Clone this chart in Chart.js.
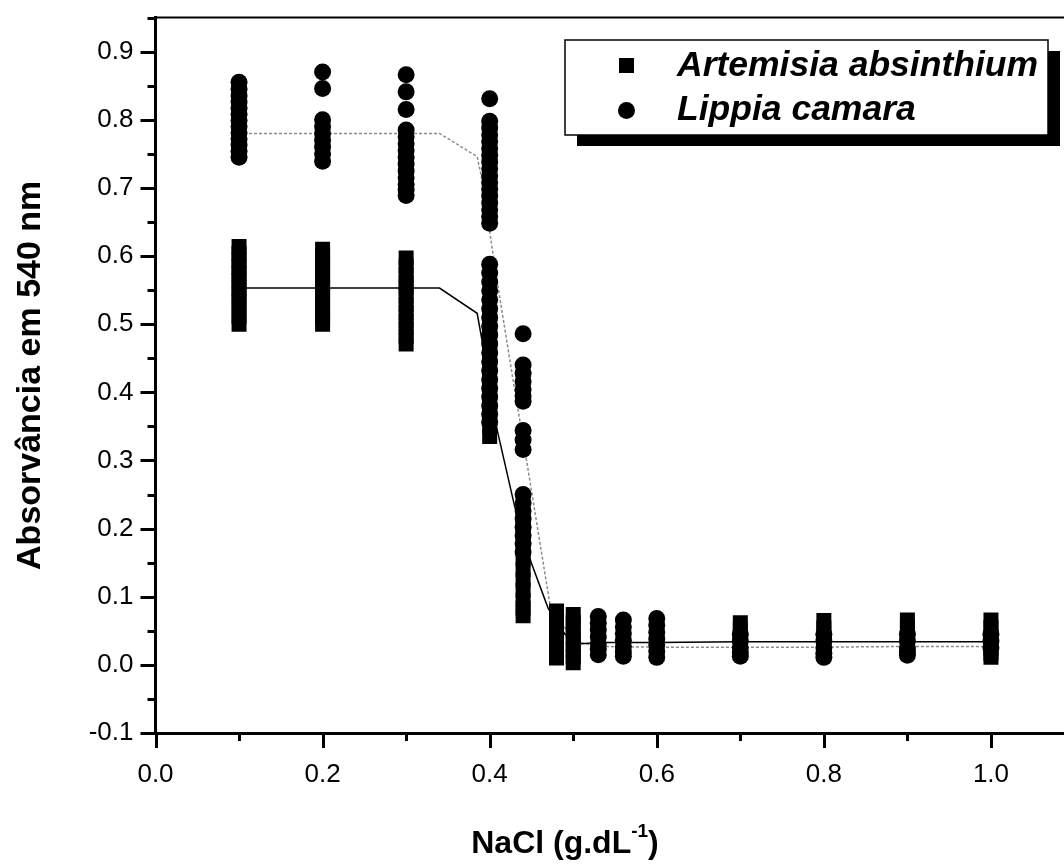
<!DOCTYPE html>
<html>
<head>
<meta charset="utf-8">
<script src="https://cdn.jsdelivr.net/npm/chart.js@4.4.1/dist/chart.umd.min.js"></script>
<style>
  html, body { margin: 0; padding: 0; background: #fff; overflow: hidden; }
  #wrap { width: 1076px; height: 865px; }
</style>
</head>
<body>
<div id="wrap"><canvas id="myChart" width="1076" height="865"></canvas></div>
<script>
// NaCl concentrations (g/dL) where replicates were read
const concentrations = [0.1, 0.2, 0.3, 0.4, 0.44, 0.48, 0.5, 0.53, 0.56, 0.6, 0.7, 0.8, 0.9, 1.0];

// Artemisia absinthium replicate absorbances, one list per concentration
const artemisiaAbs = [
    [0.614, 0.604, 0.594, 0.584, 0.574, 0.564, 0.553, 0.543, 0.533, 0.522, 0.511, 0.500],
    [0.610, 0.600, 0.590, 0.580, 0.570, 0.560, 0.553, 0.543, 0.532, 0.521, 0.510, 0.500],
    [0.597, 0.585, 0.573, 0.561, 0.553, 0.541, 0.529, 0.517, 0.505, 0.494, 0.482, 0.471],
    [0.515, 0.500, 0.485, 0.470, 0.455, 0.440, 0.425, 0.410, 0.395, 0.380, 0.365, 0.350, 0.335],
    [0.215, 0.200, 0.185, 0.170, 0.155, 0.140, 0.125, 0.110, 0.095, 0.083, 0.072],
    [0.079, 0.068, 0.057, 0.046, 0.035, 0.026, 0.018, 0.010],
    [0.074, 0.063, 0.052, 0.041, 0.031, 0.022, 0.012, 0.003],
    [],
    [],
    [],
    [0.062, 0.052, 0.042, 0.033],
    [0.065, 0.054, 0.044, 0.034],
    [0.066, 0.055, 0.045, 0.034],
    [0.066, 0.055, 0.044, 0.034, 0.024, 0.017, 0.011]
];

// Lippia camara replicate absorbances
const lippiaAbs = [
    [0.855, 0.845, 0.835, 0.826, 0.817, 0.808, 0.799, 0.790, 0.781, 0.772, 0.763, 0.754, 0.745],
    [0.870, 0.846, 0.800, 0.790, 0.780, 0.770, 0.760, 0.750, 0.739],
    [0.866, 0.841, 0.815, 0.785, 0.775, 0.765, 0.755, 0.745, 0.735, 0.725, 0.715, 0.705, 0.697, 0.689],
    [0.831, 0.798, 0.788, 0.778, 0.768, 0.758, 0.748, 0.738, 0.728, 0.718, 0.708, 0.698, 0.688, 0.678,
     0.668, 0.658, 0.648, 0.588, 0.575, 0.562, 0.549, 0.536, 0.523, 0.510, 0.497, 0.484, 0.471, 0.458,
     0.445, 0.432, 0.419, 0.406, 0.393, 0.380, 0.368, 0.356],
    [0.486, 0.440, 0.428, 0.416, 0.404, 0.395, 0.387, 0.344, 0.330, 0.316, 0.250, 0.238, 0.226, 0.214,
     0.202, 0.190, 0.178, 0.166],
    [],
    [],
    [0.071, 0.061, 0.051, 0.041, 0.031, 0.023, 0.015],
    [0.066, 0.056, 0.046, 0.036, 0.027, 0.019, 0.0125],
    [0.068, 0.058, 0.048, 0.038, 0.029, 0.020, 0.011],
    [0.045, 0.035, 0.025, 0.018, 0.0125],
    [0.045, 0.035, 0.025, 0.017, 0.011],
    [0.045, 0.035, 0.025, 0.019, 0.014],
    [0.045, 0.035, 0.025]
];

// mean curves
const artemisiaCurveX = [0.1, 0.2, 0.3, 0.34, 0.385, 0.39, 0.408, 0.43, 0.45, 0.47, 0.49, 0.51, 0.53, 0.6, 0.7, 0.8, 0.9, 1.0];
const artemisiaCurveY = [0.553, 0.553, 0.553, 0.553, 0.516, 0.482, 0.350, 0.232, 0.149, 0.083, 0.045, 0.031, 0.033, 0.033, 0.034, 0.034, 0.034, 0.034];
const lippiaCurveX = [0.1, 0.2, 0.3, 0.34, 0.385, 0.39, 0.41, 0.428, 0.444, 0.472, 0.5, 0.53, 0.6, 0.7, 0.8, 0.9, 1.0];
const lippiaCurveY = [0.780, 0.780, 0.780, 0.780, 0.746, 0.717, 0.555, 0.418, 0.301, 0.090, 0.035, 0.027, 0.026, 0.026, 0.026, 0.027, 0.027];

const seriesNames = ['Artemisia absinthium', 'Lippia camara'];

const toPoints = (lists) => concentrations.flatMap((c, i) => lists[i].map(v => ({ x: c, y: v })));
const toCurve = (xs, ys) => xs.map((x, i) => ({ x, y: ys[i] }));

const FONT = "'Liberation Sans', Arial, Helvetica, sans-serif";

// drop the label overhang padding chart.js adds around each axis
const noOverhang = (scale) => {
    scale.paddingLeft = 0;
    scale.paddingRight = 0;
    scale.paddingTop = 0;
    scale.paddingBottom = 0;
};

// draws ticks (major/minor), top frame line, x title and the shadowed legend box
const decorPlugin = {
    id: 'decor',
    afterDraw(chart) {
        const ctx = chart.ctx;
        const area = chart.chartArea;
        const xs = chart.scales.x;
        const ys = chart.scales.y;
        ctx.save();
        ctx.strokeStyle = '#000';

        // thin top frame line
        ctx.lineWidth = 2;
        ctx.beginPath();
        ctx.moveTo(area.left, area.top);
        ctx.lineTo(area.right, area.top);
        ctx.stroke();

        // y ticks
        ctx.lineWidth = 3;
        ys.ticks.forEach(t => {
            const py = Math.round(ys.getPixelForValue(t.value)) + 0.5;
            const len = t.label ? 15 : 8;
            ctx.beginPath();
            ctx.moveTo(area.left, py);
            ctx.lineTo(area.left - len, py);
            ctx.stroke();
        });
        // x ticks
        xs.ticks.forEach(t => {
            const px = Math.round(xs.getPixelForValue(t.value)) + 0.5;
            const len = t.label ? 15 : 8;
            ctx.beginPath();
            ctx.moveTo(px, area.bottom);
            ctx.lineTo(px, area.bottom + len);
            ctx.stroke();
        });

        // x axis title with superscript
        ctx.fillStyle = '#000';
        ctx.textBaseline = 'alphabetic';
        const mainFont = 'bold 32px ' + FONT;
        const supFont = 'bold 19px ' + FONT;
        ctx.font = mainFont;
        const w1 = ctx.measureText('NaCl (g.dL').width;
        const w3 = ctx.measureText(')').width;
        ctx.font = supFont;
        const w2 = ctx.measureText('-1').width;
        let tx = 565 - (w1 + w2 + w3) / 2;
        const base = 853;
        ctx.font = mainFont;
        ctx.fillText('NaCl (g.dL', tx, base);
        tx += w1;
        ctx.font = supFont;
        ctx.fillText('-1', tx, base - 16);
        tx += w2;
        ctx.font = mainFont;
        ctx.fillText(')', tx, base);

        // legend box with drop shadow
        const lx = 565, ly = 40, lw = 483, lh = 95;
        ctx.fillStyle = '#000';
        ctx.fillRect(lx + 12, ly + 11, lw, lh);
        ctx.fillStyle = '#fff';
        ctx.fillRect(lx, ly, lw, lh);
        ctx.lineWidth = 1.5;
        ctx.strokeRect(lx, ly, lw, lh);

        ctx.font = 'italic bold 35.5px ' + FONT;
        ctx.fillStyle = '#000';
        const rows = [65.5, 110.5];
        const baselines = [76, 120];
        chart.data.datasets.slice(0, 2).forEach((ds, i) => {
            const cy = rows[i];
            if (ds.pointStyle === 'rect') {
                ctx.fillRect(619, cy - 7.5, 15, 15);
            } else {
                ctx.beginPath();
                ctx.arc(626.5, cy, 8.5, 0, Math.PI * 2);
                ctx.fill();
            }
            ctx.fillText(ds.label, 677, baselines[i]);
        });
        ctx.restore();
    }
};

const chartContext = document.getElementById('myChart').getContext('2d');

const chart = new Chart(chartContext, {
    type: 'scatter',
    data: {
        datasets: [
            {
                label: seriesNames[0],
                data: toPoints(artemisiaAbs),
                pointStyle: 'rect',
                pointRadius: 10.6,
                backgroundColor: '#000',
                borderWidth: 0
            },
            {
                label: seriesNames[1],
                data: toPoints(lippiaAbs),
                pointStyle: 'circle',
                pointRadius: 8.5,
                backgroundColor: '#000',
                borderWidth: 0
            },
            {
                label: 'Artemisia mean',
                data: toCurve(artemisiaCurveX, artemisiaCurveY),
                showLine: true,
                pointRadius: 0,
                borderColor: '#000',
                borderWidth: 1.5
            },
            {
                label: 'Lippia mean',
                data: toCurve(lippiaCurveX, lippiaCurveY),
                showLine: true,
                pointRadius: 0,
                borderColor: '#8c8c8c',
                borderWidth: 1.5,
                borderDash: [3, 2]
            }
        ]
    },
    options: {
        responsive: false,
        animation: false,
        devicePixelRatio: 1,
        layout: { autoPadding: false, padding: { top: 17.6, right: 1.5, left: 0, bottom: 0 } },
        plugins: {
            legend: { display: false },
            tooltip: { enabled: false }
        },
        scales: {
            x: {
                type: 'linear',
                min: 0,
                max: 1.1,
                afterFit: (scale) => { scale.height = 132; noOverhang(scale); },
                border: { display: true, width: 3, color: '#000' },
                grid: { drawOnChartArea: false, drawTicks: false },
                ticks: {
                    stepSize: 0.1,
                    autoSkip: false,
                    maxRotation: 0,
                    padding: 26,
                    color: '#000',
                    font: { family: FONT, size: 26 },
                    callback: (v) => {
                        const r = Math.round(v * 10);
                        return (r % 2 === 0 && r <= 10) ? (r / 10).toFixed(1) : '';
                    }
                }
            },
            y: {
                type: 'linear',
                min: -0.1,
                max: 0.95,
                afterFit: (scale) => { scale.width = 155.5; noOverhang(scale); },
                border: { display: true, width: 3, color: '#000' },
                grid: { drawOnChartArea: false, drawTicks: false },
                title: {
                    display: true,
                    text: 'Absorvância em 540 nm',
                    color: '#000',
                    font: { family: FONT, size: 34, weight: 'bold' },
                    padding: { top: 10, bottom: 0 }
                },
                ticks: {
                    stepSize: 0.05,
                    autoSkip: false,
                    padding: 22,
                    color: '#000',
                    font: { family: FONT, size: 26 },
                    callback: (v) => {
                        const r = Math.round(v * 100);
                        return r % 10 === 0 ? (Math.round(v * 10) / 10).toFixed(1) : '';
                    }
                }
            }
        }
    },
    plugins: [decorPlugin]
});
</script>
</body>
</html>
